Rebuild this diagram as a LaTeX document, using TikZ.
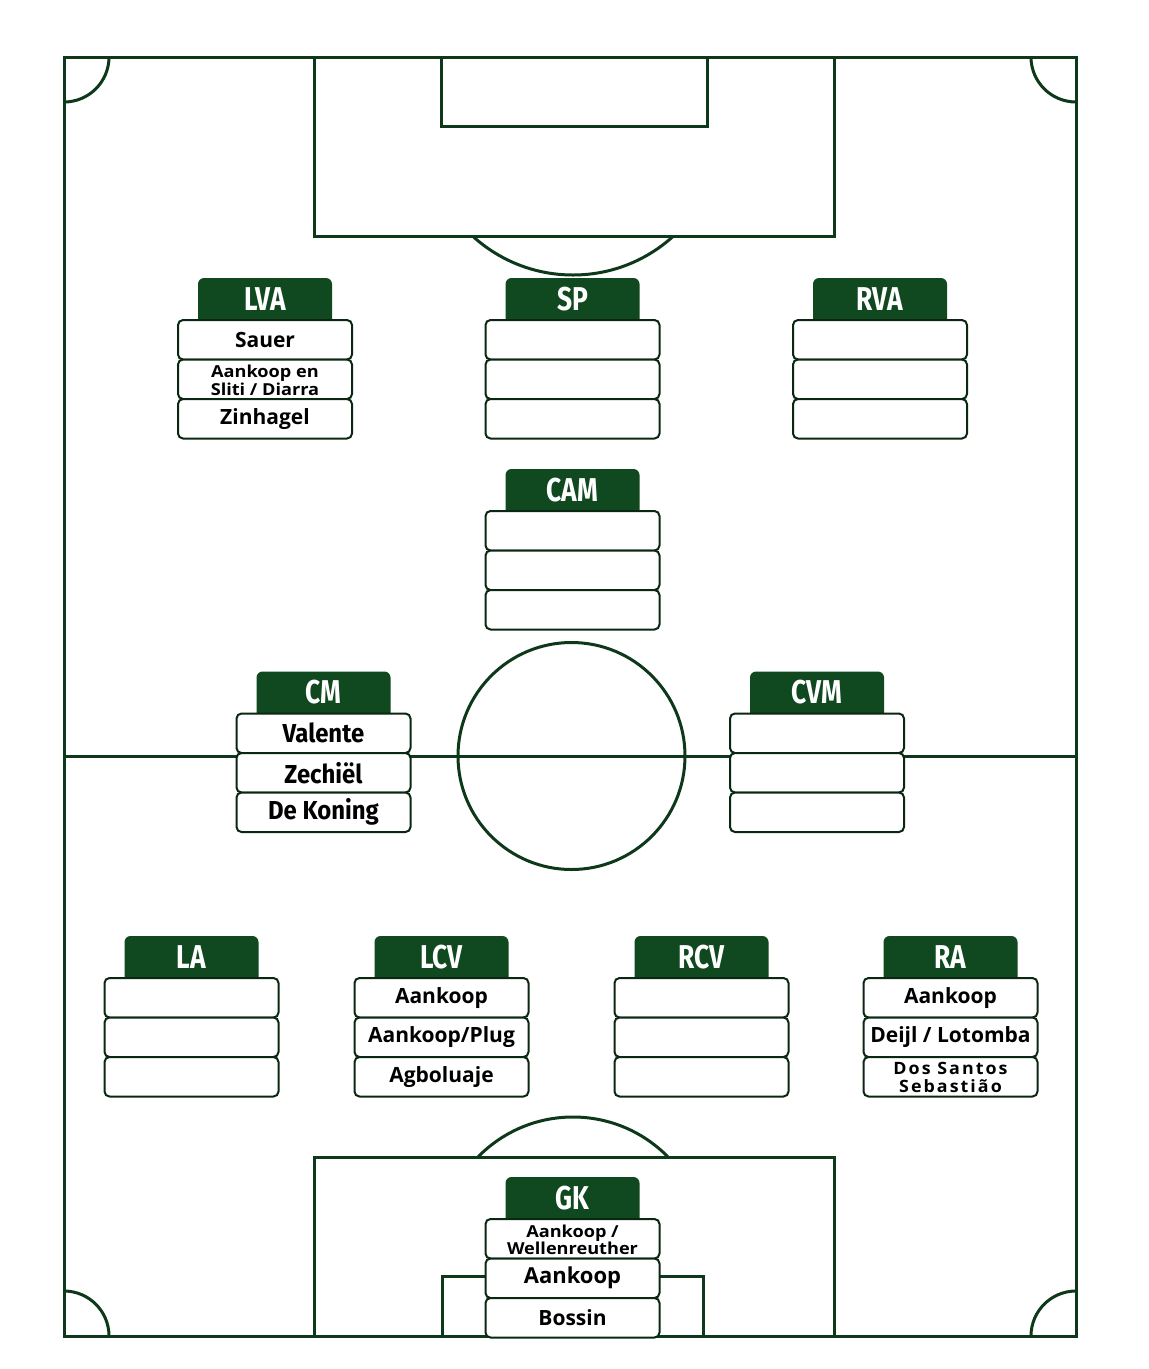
\documentclass[tikz,border=0pt]{standalone}
\usepackage{fontspec}
\setmainfont{Open Sans}
\newfontfamily\hdrfont[FakeStretch=0.8]{Fira Sans}
\newfontfamily\cmfont[FakeStretch=0.92]{Fira Sans}
\newfontfamily\smallfont[FakeStretch=1.1]{Open Sans}
\newfontfamily\spacedfont[FakeStretch=1.05,LetterSpace=12]{Open Sans}
\definecolor{pitch}{RGB}{14,56,26}
\definecolor{hdrgreen}{RGB}{16,72,32}
\tikzset{
  fieldline/.style={draw=pitch, line width=3pt},
  rowbox/.style={draw=pitch!70!black, line width=2pt, fill=white, rounded corners=5pt,
    minimum width=174pt, minimum height=39.5pt, inner sep=0pt,
    font=\bfseries\fontsize{21}{23}\selectfont},
  hdrtext/.style={text=white, inner sep=0pt, font=\hdrfont\bfseries\fontsize{33}{33}\selectfont}
}
\newcommand{\twolines}[2]{\raisebox{-3.5pt}[\height][\depth]{\begin{tabular}{@{}c@{}}#1\\#2\end{tabular}}}
\newcommand{\poscard}[7]{%
  \fill[hdrgreen, rounded corners=6pt] (#2-67,#3+6) -- (#2-67,#3-42) -- (#2+67,#3-42) -- (#2+67,#3+6) -- cycle;
  \node[hdrtext] (#1h) at (#2,#3-21) {#4};
  \node[rowbox] (#1a) at (#2,#3+19.75) {#5};
  \node[rowbox] (#1b) at (#2,#3+59.25) {#6};
  \node[rowbox] (#1c) at (#2,#3+98.75) {#7};
}
\begin{document}
\begin{tikzpicture}[x=1pt,y=-1pt]
\fill[white] (0,0) rectangle (1149,1369);
\useasboundingbox (0,0) rectangle (1149,1369);
% field
\draw[fieldline] (64,57) rectangle (1076,1336);
\draw[fieldline] (64,756) -- (1076,756);
\draw[fieldline] (571.5,756) circle[radius=113.5];
\draw[fieldline] (314,57) rectangle (834,236);
\draw[fieldline] (441,57) rectangle (707,126);
\draw[fieldline] (314,1157) rectangle (834,1336);
\draw[fieldline] (442,1276) rectangle (703,1336);
\begin{scope}
  \clip (300,237.5) rectangle (850,330);
  \draw[fieldline] (573,126) circle[radius=149];
\end{scope}
\begin{scope}
  \clip (300,1155.5) rectangle (850,1080);
  \draw[fieldline] (573,1250) circle[radius=133];
\end{scope}
\draw[fieldline] (109,57) arc[start angle=0,end angle=90,radius=45];
\draw[fieldline] (1031,57) arc[start angle=180,end angle=90,radius=45];
\draw[fieldline] (109,1336) arc[start angle=0,end angle=-90,radius=45];
\draw[fieldline] (1031,1336) arc[start angle=180,end angle=270,radius=45];
% cards
\poscard{lva}{265}{320}{LVA}{Sauer}{\smallfont\fontsize{16.5}{16.5}\selectfont\twolines{Aankoop en}{Sliti / Diarra}}{Zinhagel}
\poscard{sp}{572.5}{320}{SP}{}{}{}
\poscard{rva}{880}{320}{RVA}{}{}{}
\poscard{cam}{572.5}{511}{CAM}{}{}{}
\poscard{cm}{323.5}{713.5}{CM}{\cmfont\fontsize{26}{28}\selectfont Valente}{\cmfont\fontsize{26}{28}\selectfont Zechiël}{\cmfont\fontsize{26}{28}\selectfont De Koning}
\poscard{cvm}{817}{713.5}{CVM}{}{}{}
\poscard{la}{191.5}{978}{LA}{}{}{}
\poscard{lcv}{441.5}{978}{LCV}{Aankoop}{Aankoop/Plug}{Agboluaje}
\poscard{rcv}{701.5}{978}{RCV}{}{}{}
\poscard{ra}{950.5}{978}{RA}{Aankoop}{Deijl / Lotomba}{\spacedfont\fontsize{17}{17}\selectfont\twolines{Dos Santos}{Sebastião}}
\poscard{gk}{572.5}{1219}{GK}{\smallfont\fontsize{16.5}{16.5}\selectfont\twolines{Aankoop /}{Wellenreuther}}{\fontsize{22}{24}\selectfont Aankoop}{Bossin}
\end{tikzpicture}
\end{document}
